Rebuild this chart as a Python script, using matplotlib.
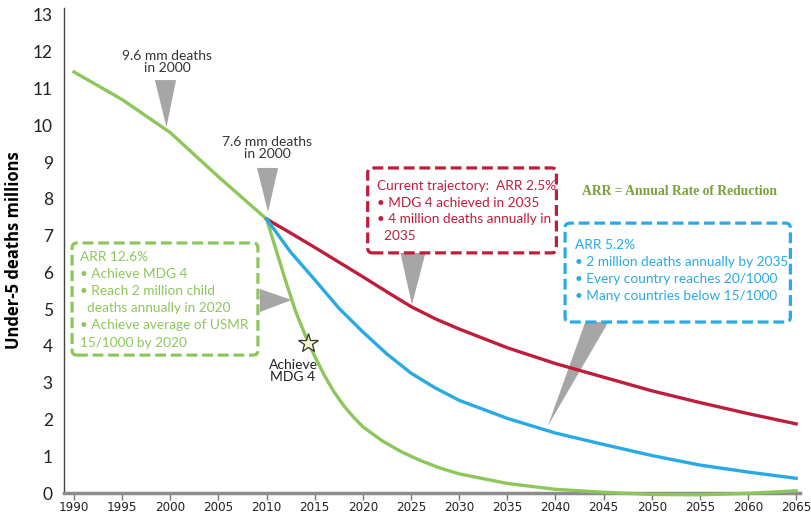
import matplotlib
matplotlib.use("Agg")
import matplotlib.pyplot as plt
from matplotlib.patches import FancyBboxPatch, Polygon

# ---- data ----
years_hist = [1990, 1995, 2000, 2005, 2010]
deaths_hist = [11.45, 10.7, 9.8, 8.6, 7.45]

years_fast = [2010, 2011, 2012, 2013, 2014, 2015, 2016, 2017, 2018, 2019, 2020,
              2022, 2024, 2026, 2028, 2030, 2035, 2040, 2045, 2050, 2055, 2060, 2065]
deaths_fast = [7.45, 6.6, 5.75, 4.95, 4.3, 3.72, 3.2, 2.75, 2.38, 2.07, 1.8,
               1.42, 1.12, 0.88, 0.68, 0.52, 0.26, 0.1, 0.02, -0.04, -0.05, -0.01, 0.06]

years_proj = [2010, 2012.5, 2015, 2017.5, 2020, 2022.5, 2025, 2027.5, 2030,
              2035, 2040, 2045, 2050, 2055, 2060, 2065]
deaths_current = [7.45, 7.07, 6.68, 6.28, 5.88, 5.47, 5.07, 4.74, 4.46,
                  3.95, 3.52, 3.15, 2.78, 2.46, 2.16, 1.88]
deaths_arr52 = [7.45, 6.55, 5.8, 5.03, 4.38, 3.78, 3.26, 2.86, 2.52,
                2.03, 1.63, 1.32, 1.02, 0.76, 0.57, 0.4]

x_ticks = list(range(1990, 2066, 5))
y_ticks = list(range(0, 14))

GREEN = "#8dc75b"
RED = "#be1e3c"
BLUE = "#29aae2"
GRAY = "#a6a6a6"
body = ["Lato", "DejaVu Sans"]

fig = plt.figure(figsize=(8.12, 5.15), dpi=100)
ax = fig.add_axes([64 / 812, 22 / 515, 736 / 812, 485 / 515])
ax.set_xlim(1988.96, 2065.4)
ax.set_ylim(0, 13.19)

ax.plot(years_hist, deaths_hist, color=GREEN, lw=2.4, clip_on=False, zorder=3)
ax.plot(years_fast, deaths_fast, color=GREEN, lw=2.4, clip_on=False, zorder=3)
ax.plot(years_proj, deaths_current, color=RED, lw=2.4, clip_on=False, zorder=4)
ax.plot(years_proj, deaths_arr52, color=BLUE, lw=2.4, clip_on=False, zorder=4)

# axes styling
for s in ("top", "right"):
    ax.spines[s].set_visible(False)
ax.spines["left"].set_color("#444444")
ax.spines["left"].set_linewidth(1.0)
ax.spines["bottom"].set_color("#8c8c8c")
ax.spines["bottom"].set_linewidth(2.5)
ax.set_xticks(x_ticks)
ax.set_xticklabels([str(y) for y in x_ticks], family="DejaVu Sans",
                   fontstretch="condensed", fontsize=9.5, color="#222222")
ax.set_yticks(y_ticks)
ax.set_yticklabels([str(y) for y in y_ticks], family=body, fontsize=12.5, color="#222222")
ax.tick_params(axis="y", length=0, pad=8)
ax.tick_params(axis="x", length=5, width=1, color="#777777", pad=1)
ax.set_ylabel("Under-5 deaths millions", family=["Open Sans", "DejaVu Sans"],
              fontweight="bold", fontsize=12)
ax.yaxis.set_label_coords(-0.056, 0.5)


def tri(pts):
    ax.add_patch(Polygon(pts, closed=True, facecolor=GRAY, edgecolor="none",
                         clip_on=False, zorder=2))


# callouts on the historical line
ax.text(1999.66, 11.72, "9.6 mm deaths\nin 2000", ha="center", va="center",
        family=body, fontsize=10, color="#333333", linespacing=1.05)
tri([(1998.4, 11.23), (2000.6, 11.23), (1999.6, 9.95)])
ax.text(2010.05, 9.38, "7.6 mm deaths\nin 2000", ha="center", va="center",
        family=body, fontsize=10, color="#333333", linespacing=1.05)
tri([(2009.0, 8.84), (2011.2, 8.84), (2010.15, 7.64)])


def dashed_box(x0, y0, x1, y1, color):
    ax.add_patch(FancyBboxPatch((x0, y0), x1 - x0, y1 - y0,
                                boxstyle="round,pad=0,rounding_size=0.5",
                                mutation_aspect=0.26,
                                facecolor="white", edgecolor=color, lw=2.3,
                                linestyle=(0, (3.4, 1.5)), clip_on=False, zorder=5))


def box_text(x, y, lines, color, step):
    for i, line in enumerate(lines):
        ax.text(x, y - i * step, line, ha="left", va="center", family=body,
                fontsize=9.8, color=color, zorder=6)


# green box
dashed_box(1989.8, 3.75, 2009.1, 6.8, GREEN)
box_text(1990.6, 6.43, ["ARR 12.6%", "• Achieve MDG 4", "• Reach 2 million child",
                        "  deaths annually in 2020", "• Achieve average of USMR",
                        "15/1000 by 2020"], GREEN, 0.468)
tri([(2009.3, 5.55), (2009.3, 4.92), (2012.6, 5.25)])

ax.plot([2014.3], [4.07], marker="*", markersize=15, markerfacecolor="#f4f5c8",
        markeredgecolor="#333333", markeredgewidth=0.9, zorder=7, clip_on=False)
ax.text(2012.75, 3.33, "Achieve\nMDG 4", ha="center", va="center", family=body,
        fontsize=10, color="#222222", linespacing=1.0)

# red box
dashed_box(2020.5, 6.53, 2040.1, 8.84, RED)
box_text(2021.5, 8.36, ["Current trajectory:  ARR 2.5%", "• MDG 4 achieved in 2035",
                        "• 4 million deaths annually in", "  2035"], RED, 0.46)
tri([(2023.9, 6.53), (2026.5, 6.53), (2025.1, 5.12)])

ax.text(2052.9, 8.21, "ARR = Annual Rate of Reduction", ha="center", va="center",
        family=["Liberation Serif", "DejaVu Serif"], fontweight="bold",
        fontsize=9.8, color="#7aa03c")

# blue box
dashed_box(2041.0, 4.65, 2064.4, 7.34, BLUE)
box_text(2042.0, 6.75, ["ARR 5.2%", "• 2 million deaths annually by 2035",
                        "• Every country reaches 20/1000",
                        "• Many countries below 15/1000"], BLUE, 0.46)
tri([(2043.1, 4.65), (2045.5, 4.65), (2039.2, 1.82)])

fig.savefig("out.png", dpi=100)
